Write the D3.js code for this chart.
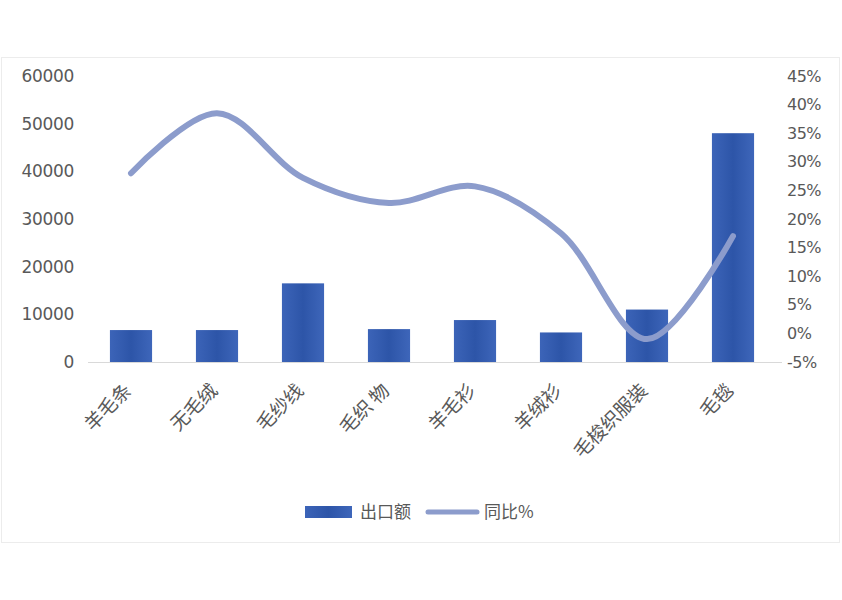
<!DOCTYPE html>
<html>
<head>
<meta charset="utf-8">
<script src="https://cdn.jsdelivr.net/npm/d3@7"></script>
<style>
  body { margin: 0; background: #fff; }
  text { font-family: "Noto Sans CJK SC", "DejaVu Sans", sans-serif; fill: #595959; }
</style>
</head>
<body>
<script>
// wool exports: amount (bars) and yoy % (smooth line)
var categories = ["羊毛条", "无毛绒", "毛纱线", "毛织 物", "羊毛衫", "羊绒衫", "毛梭织服装", "毛毯"];
var exportValues = [6700, 6700, 16500, 6900, 8800, 6200, 11000, 48000];
var yoyValues = [28.0, 38.5, 27.2, 22.8, 25.7, 17.5, -1.0, 17.0];
var leftTicks = [0, 10000, 20000, 30000, 40000, 50000, 60000];
var rightTicks = [-5, 0, 5, 10, 15, 20, 25, 30, 35, 40, 45];
var legendNames = ["出口额", "同比%"];

function draw() {
  var width = 842;
  var height = 600;
  var margin = {top: 76, left: 88, right: 66, bottom: 238};

  var svg = d3.select("body").append("svg")
      .attr("width", width)
      .attr("height", height);

  // faint frame of the original screenshot
  svg.append("rect")
      .attr("x", 1.5).attr("y", 57.5)
      .attr("width", 838).attr("height", 485)
      .attr("fill", "none")
      .attr("stroke", "#ececec");

  var defs = svg.append("defs");
  var grad = defs.append("linearGradient")
      .attr("id", "barGrad")
      .attr("x1", "0").attr("x2", "1").attr("y1", "0").attr("y2", "0");
  grad.append("stop").attr("offset", "0%").attr("stop-color", "#3c64b8");
  grad.append("stop").attr("offset", "50%").attr("stop-color", "#2d55a8");
  grad.append("stop").attr("offset", "100%").attr("stop-color", "#3e66ba");

  var x = d3.scaleBand()
      .domain(categories)
      .range([margin.left, width - margin.right])
      .paddingInner(0.51)
      .paddingOuter(0.255);

  var yLeft = d3.scaleLinear()
      .domain([0, 60000])
      .range([362, 76]);

  var yRight = d3.scaleLinear()
      .domain([-5, 45])
      .range([362, 76]);

  // left axis
  var leftAxis = svg.append("g")
      .attr("transform", "translate(" + margin.left + ",0)")
      .call(d3.axisLeft(yLeft).tickValues(leftTicks).tickSize(0).tickPadding(14)
        .tickFormat(d3.format("d")));
  leftAxis.select(".domain").remove();
  leftAxis.selectAll("text")
      .style("font-size", "17px")
      .style("font-family", "DejaVu Sans, sans-serif")
      .style("letter-spacing", "-0.3px")
      .attr("fill", "#6b6b6b");

  // right axis
  var rightAxis = svg.append("g")
      .attr("transform", "translate(" + (width - margin.right) + ",0)")
      .call(d3.axisRight(yRight).tickValues(rightTicks).tickSize(0).tickPadding(11)
        .tickFormat(function(d) { return d + "%"; }));
  rightAxis.select(".domain").remove();
  rightAxis.selectAll("text")
      .style("font-size", "16px")
      .style("font-family", "DejaVu Sans, sans-serif")
      .style("letter-spacing", "-0.5px")
      .attr("fill", "#6b6b6b");

  // baseline
  svg.append("line")
      .attr("x1", margin.left).attr("x2", width - margin.right + 6)
      .attr("y1", yLeft(0) + 0.5).attr("y2", yLeft(0) + 0.5)
      .attr("stroke", "#d9d9d9")
      .attr("stroke-width", 1);

  // bars
  svg.append("g")
      .selectAll("rect")
      .data(exportValues)
      .enter().append("rect")
        .attr("x", function(d, i) { return x(categories[i]); })
        .attr("y", function(d) { return yLeft(d); })
        .attr("width", x.bandwidth())
        .attr("height", function(d) { return yLeft(0) - yLeft(d); })
        .attr("fill", "url(#barGrad)");

  // smooth yoy line
  var line = d3.line()
      .x(function(d, i) { return x(categories[i]) + x.bandwidth() / 2; })
      .y(function(d) { return yRight(d); })
      .curve(d3.curveCatmullRom.alpha(0.5));

  svg.append("path")
      .datum(yoyValues)
      .attr("d", line)
      .attr("fill", "none")
      .attr("stroke", "#8c9ccc")
      .attr("stroke-width", 6)
      .attr("stroke-linecap", "round");

  // category labels, rotated
  svg.append("g")
      .selectAll("text")
      .data(categories)
      .enter().append("text")
        .attr("transform", function(d) {
          var cx = x(d) + x.bandwidth() / 2 - 3;
          return "translate(" + cx + "," + 387 + ") rotate(-45)";
        })
        .attr("text-anchor", "end")
        .attr("dy", "0.35em")
        .attr("fill", "#6b6b6b")
        .style("font-size", "19px")
        .text(function(d) { return d; });

  // legend
  var legend = svg.append("g");
  legend.append("rect")
      .attr("x", 305).attr("y", 506)
      .attr("width", 47).attr("height", 12)
      .attr("fill", "url(#barGrad)");
  legend.append("text")
      .attr("x", 360).attr("y", 512)
      .attr("dy", "0.35em")
      .attr("fill", "#6b6b6b")
      .style("font-size", "17px")
      .text(legendNames[0]);
  legend.append("line")
      .attr("x1", 428).attr("x2", 477)
      .attr("y1", 512).attr("y2", 512)
      .attr("stroke", "#8c9ccc")
      .attr("stroke-width", 5)
      .attr("stroke-linecap", "round");
  legend.append("text")
      .attr("x", 484).attr("y", 512)
      .attr("dy", "0.35em")
      .attr("fill", "#6b6b6b")
      .style("font-size", "17px")
      .text(legendNames[1]);
}
draw();
</script>
</body>
</html>
